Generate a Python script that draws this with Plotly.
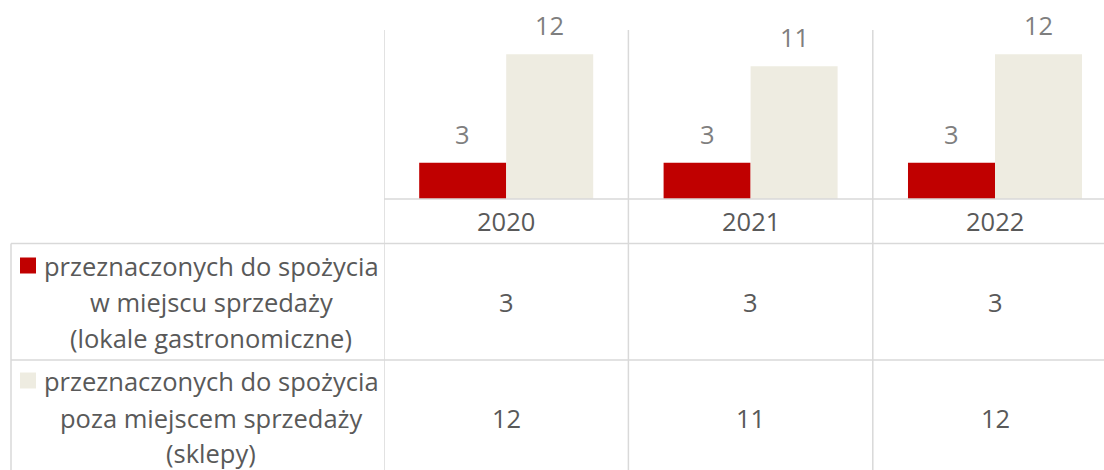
import plotly.graph_objects as go

W, H = 1104, 470

# ---- data -------------------------------------------------------------
years = ["2020", "2021", "2022"]
on_premise = [3, 3, 3]        # przeznaczonych do spożycia w miejscu sprzedaży
off_premise = [12, 11, 12]    # przeznaczonych do spożycia poza miejscem sprzedaży
series_labels = [
    ["przeznaczonych do spożycia", "w miejscu sprzedaży", "(lokale gastronomiczne)"],
    ["przeznaczonych do spożycia", "poza miejscem sprzedaży", "(sklepy)"],
]

series_values = [on_premise, off_premise]
series_colors = ["#C00000", "#EEECE1"]

# ---- styling ----------------------------------------------------------
FONT = "Open Sans"
FS = 25.5
TEXT = "#595959"
LABEL = "#7F7F7F"
GRID = "#D9D9D9"
LW = 1.5

# layout geometry (pixels)
X_LEFT = 384          # left edge of the plot / first data column
COL_W = 244.4         # width of one category column
TABLE_LEFT = 11
PLOT_TOP = 30
AXIS_Y = 199
ROW_LINES = [243.5, 360]
YEAR_Y = 220.5
ROW_LINE_Y = [[266, 302, 338], [381, 417.5, 453]]
ROW_VALUE_Y = [301.5, 417.5]
LEGEND_X = 211
KEY = 16

BARGAP = 0.288


def px(x):
    return x / W


def py(y):
    return 1 - y / H


fig = go.Figure()
for lines, vals, color in zip(series_labels, series_values, series_colors):
    fig.add_trace(go.Bar(
        x=list(range(len(years))), y=vals,
        name=" ".join(lines),
        marker=dict(color=color, line=dict(width=0)),
        showlegend=False, hoverinfo="skip",
    ))

annotations = []
shapes = []

# value labels above the bars
offset = (1 - BARGAP) / 4
for s, vals in enumerate(series_values):
    dx = -offset if s == 0 else offset
    for i, v in enumerate(vals):
        annotations.append(dict(
            x=i + dx, y=v, xref="x", yref="y", text=str(v),
            showarrow=False, yanchor="middle", yshift=29,
            font=dict(family=FONT, size=FS, color=LABEL),
        ))

# category labels under the axis
for i, yr in enumerate(years):
    annotations.append(dict(
        x=i, y=py(YEAR_Y), xref="x", yref="paper", text=yr,
        showarrow=False, yanchor="middle",
        font=dict(family=FONT, size=FS, color=TEXT),
    ))

# data table rows
for s, (lines, vals, color) in enumerate(zip(series_labels, series_values, series_colors)):
    for ln, yc in zip(lines, ROW_LINE_Y[s]):
        annotations.append(dict(
            x=px(LEGEND_X), y=py(yc), xref="paper", yref="paper", text=ln,
            showarrow=False, xanchor="center", yanchor="middle",
            font=dict(family=FONT, size=FS, color=TEXT),
        ))
    ky = ROW_LINE_Y[s][0] - 0.5
    shapes.append(dict(
        type="rect", xref="paper", yref="paper",
        x0=px(20), x1=px(20 + KEY), y0=py(ky + KEY / 2), y1=py(ky - KEY / 2),
        fillcolor=color, line=dict(width=0), layer="above",
    ))
    for i, v in enumerate(vals):
        annotations.append(dict(
            x=i, y=py(ROW_VALUE_Y[s]), xref="x", yref="paper", text=str(v),
            showarrow=False, yanchor="middle",
            font=dict(family=FONT, size=FS, color=TEXT),
        ))

# grid: vertical column separators
for i in range(len(years) + 1):
    shapes.append(dict(
        type="line", xref="x", yref="paper",
        x0=i - 0.5, x1=i - 0.5, y0=py(PLOT_TOP), y1=0,
        line=dict(color=GRID, width=LW), layer="below",
    ))
# axis baseline
shapes.append(dict(
    type="line", xref="x", yref="paper",
    x0=-0.5, x1=len(years), y0=py(AXIS_Y), y1=py(AXIS_Y),
    line=dict(color=GRID, width=LW), layer="above",
))
# table horizontal rules
for yl in ROW_LINES:
    shapes.append(dict(
        type="line", xref="paper", yref="paper",
        x0=px(TABLE_LEFT), x1=1, y0=py(yl), y1=py(yl),
        line=dict(color=GRID, width=LW), layer="below",
    ))
# table left border
shapes.append(dict(
    type="line", xref="paper", yref="paper",
    x0=px(TABLE_LEFT), x1=px(TABLE_LEFT), y0=py(ROW_LINES[0]), y1=0,
    line=dict(color=GRID, width=LW), layer="below",
))

fig.update_layout(
    width=W, height=H,
    margin=dict(l=0, r=0, t=0, b=0),
    paper_bgcolor="white", plot_bgcolor="rgba(0,0,0,0)",
    barmode="group", bargap=BARGAP, bargroupgap=0,
    xaxis=dict(
        domain=[px(X_LEFT), 1],
        range=[-0.5, -0.5 + (W - X_LEFT) / COL_W],
        showticklabels=False, showgrid=False, zeroline=False, showline=False,
        fixedrange=True,
    ),
    yaxis=dict(
        domain=[py(AXIS_Y), py(PLOT_TOP)],
        range=[0, 14],
        showticklabels=False, showgrid=False, zeroline=False, showline=False,
        fixedrange=True,
    ),
    annotations=annotations,
    shapes=shapes,
    font=dict(family=FONT, size=FS, color=TEXT),
)

fig.write_html("out.html")
